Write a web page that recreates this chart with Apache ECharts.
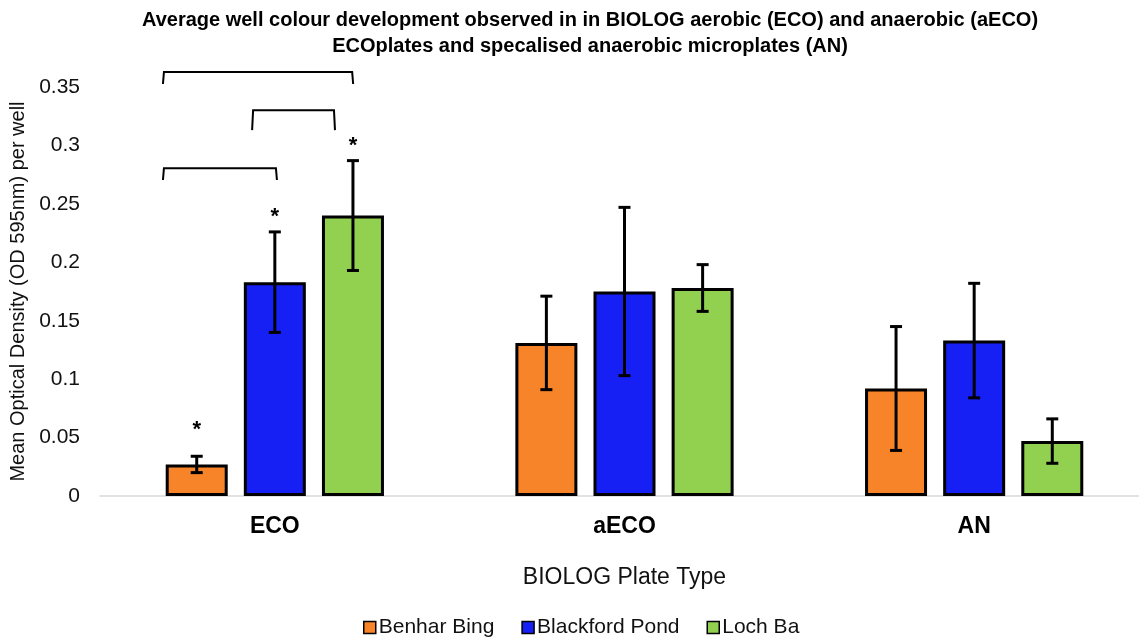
<!DOCTYPE html>
<html>
<head>
<meta charset="utf-8">
<script src="https://cdn.jsdelivr.net/npm/echarts@6/dist/echarts.min.js"></script>
<style>html,body{margin:0;padding:0;background:#fff}#c{width:1139px;height:637px}</style>
</head>
<body>
<div id="c"></div>
<script>
// ---- data ----
const categories = ['ECO', 'aECO', 'AN'];
const seriesNames = ['Benhar Bing', 'Blackford Pond', 'Loch Ba'];
const benharBing = [0.027, 0.131, 0.092];
const blackfordPond = [0.183, 0.175, 0.133];
const lochBa = [0.240, 0.178, 0.047];
const benharBingErr = [0.007, 0.040, 0.053];
const blackfordPondErr = [0.043, 0.072, 0.049];
const lochBaErr = [0.047, 0.020, 0.019];
const yTicks = [0, 0.05, 0.1, 0.15, 0.2, 0.25, 0.3, 0.35];
// significance asterisks: [category index, series index, y level]
const asterisks = [[0, 0, 0.060], [0, 1, 0.242], [0, 2, 0.303]];
// brackets: [category index, left offset (band fraction), right offset (band fraction), top y, leg bottom y]
const brackets = [
  [0, -0.32, 0.006, 0.2813, 0.2704],
  [0, -0.065, 0.172, 0.3309, 0.3131],
  [0, -0.32, 0.224, 0.3637, 0.3526]
];

const colors = ['#F8842A', '#1620F5', '#92D050'];
const values = [benharBing, blackfordPond, lochBa];
const errs = [benharBingErr, blackfordPondErr, lochBaErr];
const BAR_W = 62, BAR_GAP = 0.26;
const step = BAR_W * (1 + BAR_GAP);
const FONT = '"Liberation Sans", Arial, sans-serif';

const chart = echarts.init(document.getElementById('c'));
const series = [];
values.forEach((v, i) => {
  series.push({
    name: seriesNames[i], type: 'bar', data: v,
    barWidth: BAR_W, barGap: (BAR_GAP * 100) + '%',
    itemStyle: { color: colors[i], borderColor: '#000', borderWidth: 3 },
    emphasis: { disabled: true }
  });
});
values.forEach((v, i) => {
  series.push({
    type: 'custom', silent: true, z: 5,
    data: v.map((m, k) => [k, m - errs[i][k], m + errs[i][k]]),
    renderItem: function (params, api) {
      const lo = api.coord([api.value(0), api.value(1)]);
      const hi = api.coord([api.value(0), api.value(2)]);
      const x = lo[0] + (i - 1) * step;
      const cw = 6;
      const st = { stroke: '#000', lineWidth: 3 };
      return { type: 'group', children: [
        { type: 'line', shape: { x1: x, y1: lo[1], x2: x, y2: hi[1] }, style: st },
        { type: 'line', shape: { x1: x - cw, y1: lo[1], x2: x + cw, y2: lo[1] }, style: st },
        { type: 'line', shape: { x1: x - cw, y1: hi[1], x2: x + cw, y2: hi[1] }, style: st }
      ]};
    }
  });
});
series.push({
  type: 'custom', silent: true, z: 6,
  data: asterisks,
  renderItem: function (params, api) {
    const p = api.coord([api.value(0), api.value(2)]);
    const x = p[0] + (api.value(1) - 1) * step;
    return { type: 'text', style: { text: '*', x: x, y: p[1] + 4, align: 'center', verticalAlign: 'middle',
      font: 'bold 22px ' + FONT, fill: '#000' } };
  }
});
series.push({
  type: 'custom', silent: true, z: 6,
  data: brackets,
  renderItem: function (params, api) {
    const band = api.size([1, 0])[0];
    const c = api.coord([api.value(0), api.value(3)]);
    const legY = api.coord([api.value(0), api.value(4)])[1];
    const x1 = c[0] + api.value(1) * band;
    const x2 = c[0] + api.value(2) * band;
    const y = c[1];
    return { type: 'polyline', shape: { points: [[x1, legY], [x1 + 1, y + 1], [x2 - 1, y + 1], [x2, legY]] },
      style: { stroke: '#000', lineWidth: 2, fill: null } };
  }
});

chart.setOption({
  animation: false,
  title: {
    text: 'Average well colour development observed in in BIOLOG aerobic (ECO) and anaerobic (aECO)\nECOplates and specalised anaerobic microplates (AN)',
    left: 585, top: 2, textAlign: 'center',
    textStyle: { fontFamily: FONT, fontWeight: 'bold', fontSize: 20, lineHeight: 26, color: '#000' }
  },
  legend: {
    data: seriesNames, top: 612, left: 358, itemWidth: 12, itemHeight: 12, itemGap: 27,
    icon: 'rect',
    itemStyle: { borderColor: '#000', borderWidth: 1.5 },
    textStyle: { fontFamily: FONT, fontSize: 21, color: '#111', padding: [0, 0, 0, -2] }
  },
  grid: { left: 100, top: 87, height: 409, width: 1049, outerBoundsMode: 'none', containLabel: false },
  xAxis: {
    type: 'category', data: categories,
    name: 'BIOLOG Plate Type', nameLocation: 'middle', nameGap: 70,
    nameTextStyle: { fontFamily: FONT, fontSize: 23, color: '#111' },
    axisLine: { lineStyle: { color: '#d9d9d9', width: 1.5 } },
    axisTick: { show: false },
    axisLabel: { margin: 19, fontFamily: FONT, fontSize: 23, fontWeight: 'bold', color: '#000' }
  },
  yAxis: {
    type: 'value', min: yTicks[0], max: yTicks[yTicks.length - 1], interval: 0.05,
    name: 'Mean Optical Density (OD 595nm) per well', nameLocation: 'middle', nameGap: 70,
    nameTextStyle: { fontFamily: FONT, fontSize: 20, color: '#111' },
    axisLine: { show: false }, axisTick: { show: false }, splitLine: { show: false },
    axisLabel: { margin: 20, fontFamily: FONT, fontSize: 21, color: '#111',
      formatter: v => String(parseFloat(v.toFixed(2))) }
  },
  series: series
});
</script>
</body>
</html>
